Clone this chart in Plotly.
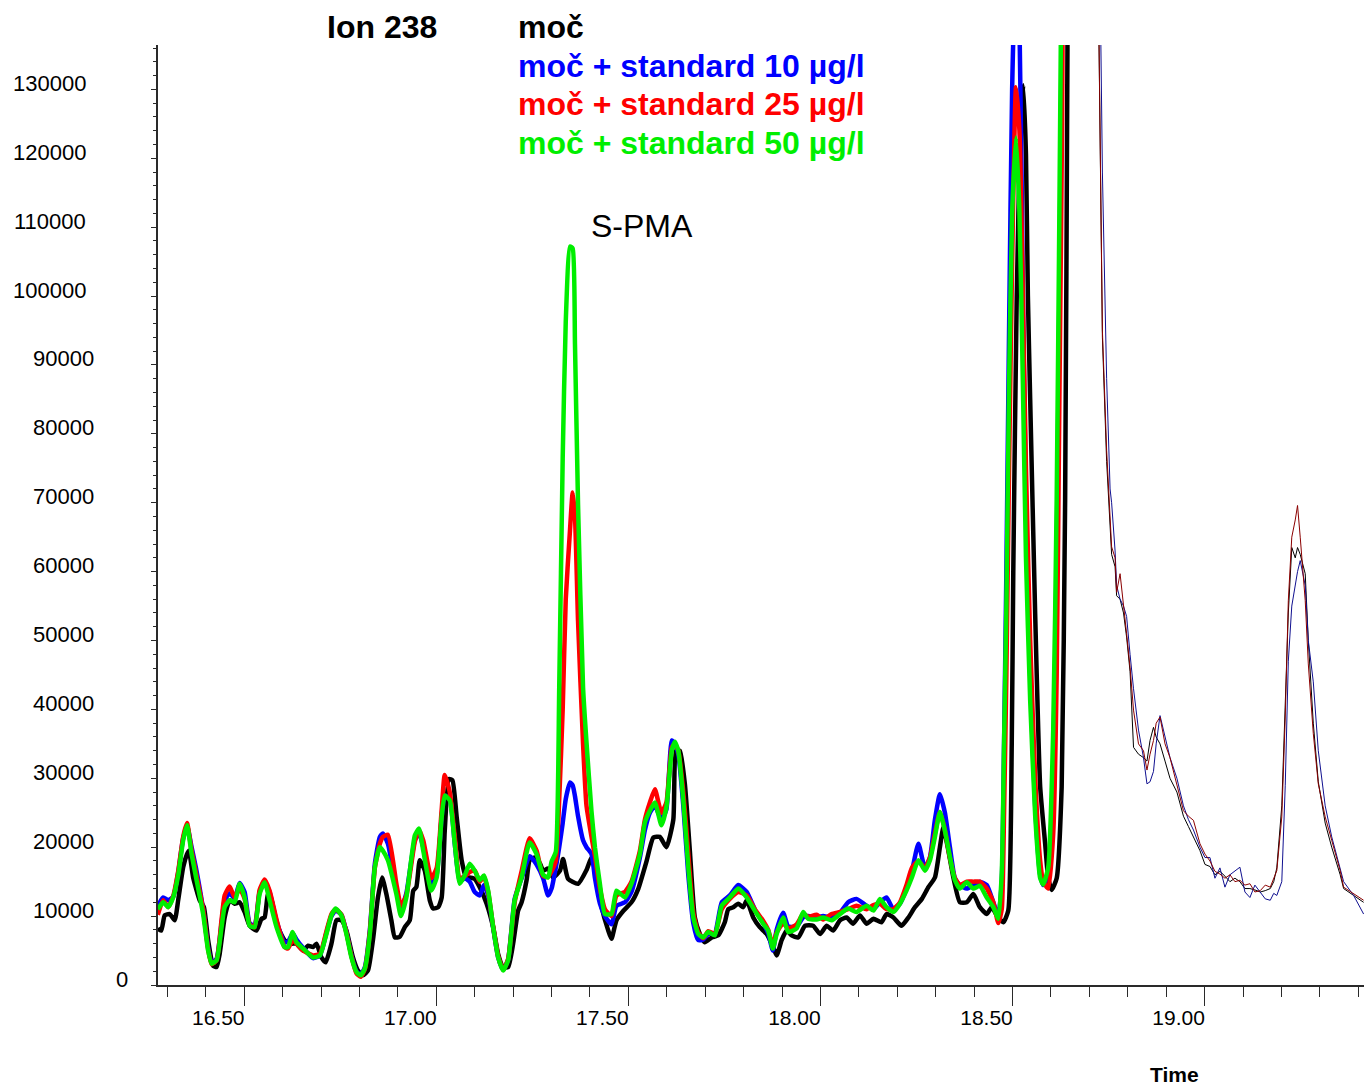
import plotly.graph_objects as go

# ---------------- data (time in min, intensity in counts) ----------------
t_std = [16.275, 16.289, 16.302, 16.315, 16.328, 16.341, 16.351, 16.363, 16.376, 16.393,
         16.406, 16.415, 16.428, 16.441, 16.449, 16.462, 16.475, 16.488, 16.501, 16.514,
         16.527, 16.540, 16.553, 16.566, 16.584, 16.605, 16.614, 16.626, 16.636, 16.653,
         16.679, 16.697, 16.714, 16.727, 16.738, 16.753, 16.766, 16.779, 16.792, 16.803,
         16.814, 16.827, 16.840, 16.853, 16.861, 16.874, 16.896, 16.908, 16.922, 16.944,
         16.955, 16.966, 16.987, 17.001, 17.014, 17.022, 17.035, 17.048, 17.061, 17.074,
         17.087, 17.100, 17.113, 17.124, 17.135, 17.148, 17.161, 17.174, 17.187, 17.204,
         17.222, 17.243, 17.261, 17.278, 17.291, 17.300, 17.311, 17.320, 17.329, 17.337,
         17.348, 17.355, 17.361, 17.369, 17.382, 17.391, 17.404, 17.413, 17.426, 17.439,
         17.456, 17.469, 17.491, 17.508, 17.530, 17.543, 17.556, 17.569, 17.586, 17.599,
         17.613, 17.621, 17.630, 17.643, 17.656, 17.669, 17.682, 17.695, 17.708, 17.725,
         17.743, 17.764, 17.786, 17.808, 17.829, 17.851, 17.864, 17.876, 17.886, 17.903,
         17.916, 17.938, 17.955, 17.968, 17.990, 18.007, 18.029, 18.051, 18.072, 18.094,
         18.120, 18.138, 18.155, 18.172, 18.190, 18.207, 18.224, 18.238, 18.255, 18.272,
         18.285, 18.298, 18.311, 18.324, 18.337, 18.350, 18.363, 18.381, 18.398, 18.415,
         18.433, 18.450, 18.463, 18.472, 18.478, 18.484, 18.491, 18.499, 18.509, 18.518,
         18.527, 18.535, 18.546, 18.559, 18.572, 18.580, 18.593, 18.606, 18.615, 18.622,
         18.629, 18.637]

std50 = [11000, 12000, 11300, 12700, 15900, 21000, 23200, 19000, 15200, 10300,
         5000, 3100, 3600, 8400, 11300, 12300, 12000, 14700, 12700, 8600,
         8400, 13200, 14900, 12300, 8400, 5500, 5500, 7700, 6200, 5300,
         4000, 4300, 7400, 10100, 11100, 10100, 7400, 4000, 1900, 1400,
         2400, 7400, 17100, 20000, 19500, 18100, 13200, 10000, 12700, 21700,
         22700, 19500, 13700, 15600, 24400, 27500, 26800, 20500, 14700, 15900,
         17600, 16600, 15200, 15900, 13700, 8400, 4000, 2100, 3600, 12300,
         15600, 20700, 19000, 16000, 15600, 17900, 19300, 43200, 76400, 96300,
         107200, 106900, 93000, 69700, 43200, 35200, 25200, 20000, 14600, 10300,
         10300, 13700, 12700, 14700, 19000, 23600, 25300, 26500, 23200, 25800,
         34000, 35300, 34000, 26800, 17100, 9800, 7400, 6900, 7700, 7200,
         11500, 12700, 14000, 12700, 10800, 8900, 7900, 5300, 7400, 9800,
         7700, 8200, 10600, 9600, 9500, 9800, 9400, 10300, 11100, 10600,
         11500, 10800, 12500, 11300, 10600, 11800, 13700, 15600, 18100, 16600,
         18100, 21500, 25100, 22400, 18600, 15200, 14000, 14900, 14000, 14400,
         12700, 11300, 9600, 16300, 35000, 55000, 87000, 112000, 123000, 112200,
         87200, 62100, 41300, 24600, 15500, 14600, 17100, 37100, 70500, 112200,
         160000, 250000]

std25 = [10200, 12300, 11300, 12900, 16500, 21500, 23500, 19500, 15800, 11000,
         5200, 3000, 3600, 9500, 13000, 14300, 12700, 14000, 12500, 8800,
         8400, 13800, 15300, 13700, 9500, 5500, 5300, 6500, 6000, 5000,
         4300, 4500, 7800, 10300, 11000, 10200, 7600, 4200, 1700, 1200,
         2300, 7700, 17000, 20500, 21500, 21800, 14700, 11500, 13000, 20800,
         22500, 21000, 15500, 17000, 25500, 30500, 28000, 21500, 15500, 15800,
         16400, 16600, 15000, 15800, 13500, 8500, 4200, 2200, 3800, 12000,
         16500, 21300, 19500, 15800, 15700, 16500, 18000, 27000, 40000, 56000,
         66000, 71500, 68000, 52800, 35000, 26000, 21500, 18700, 14000, 11000,
         10000, 13000, 13500, 15000, 19500, 24000, 26500, 28400, 25000, 26500,
         34500, 35000, 34000, 28000, 19000, 10500, 7600, 6800, 7800, 7400,
         11000, 12500, 13500, 13000, 11000, 9300, 8000, 5800, 7600, 9000,
         8200, 8800, 10300, 9900, 10200, 9500, 10300, 10600, 11000, 11500,
         11000, 11600, 11800, 11000, 11000, 12000, 14500, 17000, 18000, 17000,
         18500, 22000, 25100, 22500, 18500, 15500, 14500, 15000, 15000, 15000,
         14000, 12000, 9000, 11000, 25000, 45000, 75000, 105000, 130300, 124000,
         100000, 75000, 50000, 30000, 18000, 15000, 14000, 22000, 45000, 85000,
         125000, 200000]

std10 = [11500, 12700, 12300, 12800, 16300, 21300, 23100, 20000, 16500, 11000,
         5500, 3200, 3800, 9000, 12300, 13300, 12600, 14800, 13500, 9000,
         8600, 13500, 14900, 13500, 9300, 6200, 6300, 7500, 6600, 5400,
         3900, 4300, 7600, 10000, 10800, 10200, 7700, 4300, 2000, 1500,
         2600, 8000, 17600, 21500, 22000, 20500, 14000, 11000, 13300, 21000,
         22000, 20000, 14500, 16000, 24500, 27500, 27000, 20500, 15000, 15500,
         15000, 13500, 13000, 14500, 13000, 8300, 4000, 2200, 3700, 12500,
         15500, 18700, 17500, 15500, 13000, 14000, 17000, 20000, 23500, 27000,
         29400, 29000, 27400, 24500, 21000, 20000, 19000, 15500, 11800, 10000,
         8800, 11500, 12000, 13500, 18500, 22500, 25000, 26000, 24000, 25500,
         35500, 35000, 33500, 26000, 16000, 9000, 6500, 6600, 7400, 7500,
         12000, 13000, 14500, 13500, 11000, 9000, 7500, 5000, 8000, 10500,
         8500, 8500, 9800, 10000, 9800, 10000, 9800, 10500, 12000, 12500,
         11500, 11000, 12000, 12700, 11000, 11800, 14000, 16500, 20500, 17000,
         18500, 24000, 27700, 25000, 20000, 15500, 14500, 14000, 14500, 15000,
         14500, 12000, 10000, 15000, 35000, 60000, 95000, 130000, 150000, 140000,
         100000, 70000, 45000, 26000, 16000, 14500, 16000, 32000, 62000, 100000,
         145000, 200000]

t_urine = [16.275, 16.284, 16.293, 16.306, 16.319, 16.328, 16.341, 16.351, 16.356, 16.367,
           16.384, 16.395, 16.406, 16.419, 16.428, 16.436, 16.449, 16.462, 16.475, 16.488,
           16.501, 16.514, 16.532, 16.545, 16.553, 16.562, 16.571, 16.584, 16.605, 16.623,
           16.636, 16.653, 16.666, 16.679, 16.688, 16.701, 16.712, 16.727, 16.740, 16.753,
           16.766, 16.783, 16.796, 16.809, 16.822, 16.835, 16.848, 16.859, 16.870, 16.883,
           16.892, 16.905, 16.918, 16.931, 16.940, 16.948, 16.957, 16.970, 16.983, 16.992,
           17.005, 17.014, 17.022, 17.033, 17.042, 17.053, 17.066, 17.079, 17.087, 17.100,
           17.113, 17.131, 17.148, 17.161, 17.174, 17.187, 17.200, 17.213, 17.222, 17.235,
           17.243, 17.257, 17.270, 17.278, 17.291, 17.304, 17.322, 17.330, 17.343, 17.369,
           17.391, 17.404, 17.413, 17.430, 17.447, 17.456, 17.469, 17.486, 17.508, 17.526,
           17.547, 17.565, 17.582, 17.599, 17.617, 17.624, 17.634, 17.647, 17.660, 17.673,
           17.686, 17.699, 17.717, 17.734, 17.751, 17.760, 17.773, 17.786, 17.799, 17.808,
           17.825, 17.842, 17.860, 17.877, 17.886, 17.899, 17.912, 17.925, 17.942, 17.960,
           17.981, 17.999, 18.016, 18.033, 18.051, 18.068, 18.085, 18.103, 18.120, 18.138,
           18.159, 18.172, 18.190, 18.211, 18.229, 18.246, 18.264, 18.281, 18.298, 18.311,
           18.320, 18.333, 18.346, 18.363, 18.381, 18.398, 18.415, 18.433, 18.446, 18.459,
           18.476, 18.489, 18.498, 18.502, 18.511, 18.521, 18.528, 18.535, 18.540, 18.546,
           18.559, 18.572, 18.585, 18.593, 18.602, 18.615, 18.628, 18.637, 18.643, 18.647]

urine = [8200, 7900, 10100, 10300, 9400, 12300, 17100, 19000, 19500, 15600,
         12300, 11300, 6500, 2800, 2600, 4500, 9800, 12300, 11800, 12000,
         10600, 8600, 7900, 9600, 9800, 13200, 12300, 8900, 6500, 6000,
         6000, 5000, 5700, 5500, 6000, 4000, 3300, 6000, 9400, 9400,
         7900, 4000, 2100, 1400, 2100, 6500, 12700, 15600, 13200, 9400,
         6900, 7000, 8400, 9400, 13700, 14200, 18100, 16600, 12300, 11100,
         11300, 12700, 22400, 29900, 29700, 24400, 18100, 15400, 15600, 15400,
         14200, 11800, 8400, 4500, 2600, 2600, 6000, 10800, 12000, 15200,
         18100, 18500, 17600, 16600, 16900, 15600, 16600, 18300, 15400, 14700,
         16700, 18500, 17400, 11400, 8000, 6700, 9400, 10700, 12000, 14000,
         17900, 21400, 21500, 20000, 24000, 34000, 34000, 29200, 19500, 9800,
         7400, 6200, 6900, 7200, 9100, 11000, 11300, 11800, 11300, 12300,
         9800, 8400, 7400, 5500, 4300, 6500, 7900, 7200, 6900, 8600,
         8600, 7400, 8600, 7900, 9400, 9800, 8900, 10100, 8900, 9600,
         9100, 10300, 9800, 8600, 9800, 11300, 12500, 14200, 15600, 20000,
         22900, 19500, 15600, 12000, 12000, 13200, 11300, 10300, 11300, 10100,
         9100, 10800, 35000, 60000, 100000, 124700, 130600, 120500, 100000, 85000,
         53800, 28800, 20500, 15500, 13800, 15500, 28800, 70500, 136000, 200000]

# tail of the chromatogram (thin traces)
t_tail = [18.712, 18.728, 18.734, 18.745, 18.754, 18.758, 18.767, 18.771, 18.780, 18.789,
          18.797, 18.806, 18.815, 18.828, 18.841, 18.850, 18.858, 18.867, 18.874, 18.884,
          18.897, 18.910, 18.928, 18.945, 18.958, 18.971, 18.988, 19.001, 19.014, 19.027,
          19.040, 19.053, 19.066, 19.079, 19.092, 19.105, 19.118, 19.131, 19.145, 19.158,
          19.171, 19.180, 19.188, 19.201, 19.210, 19.218, 19.227, 19.236, 19.242, 19.249,
          19.262, 19.270, 19.283, 19.296, 19.314, 19.331, 19.353, 19.362, 19.388, 19.414]

tail_25 = [200000, 118000, 95000, 77600, 68000, 63600, 62000, 57000, 59700, 55400,
           51000, 46100, 39900, 35000, 34000, 31200, 33500, 35500, 38000, 38900,
           35000, 33000, 29200, 25300, 24500, 23900, 20500, 19000, 18000, 16500,
           16100, 15500, 16000, 15000, 15200, 14500, 14700, 13500, 13700, 14500,
           14200, 15500, 16600, 24400, 38900, 55800, 65000, 67500, 69600, 65000,
           55800, 46600, 36500, 29200, 24400, 21000, 16600, 14200, 13200, 12300]

tail_urine = [200000, 116000, 94000, 76000, 67000, 62500, 60700, 56500, 56000, 54000,
              50500, 45500, 34500, 33500, 33000, 32500, 35500, 37400, 36000, 35000,
              32500, 30000, 28000, 24500, 23000, 21500, 19500, 17500, 17200, 16000,
              16500, 15800, 15000, 15500, 15000, 14000, 14000, 13800, 13500, 13700,
              14000, 15000, 17000, 26000, 40000, 54000, 63500, 62000, 63500, 62500,
              59700, 50000, 38000, 29500, 23500, 20000, 16000, 14000, 13000, 12000]

tail_10 = [220000, 150000, 118000, 88000, 72000, 70000, 63000, 58000, 56000, 55000,
           53500, 48000, 43000, 37000, 33000, 29200, 29500, 31000, 35000, 39100,
           36000, 33000, 30000, 26000, 24000, 22500, 20000, 18500, 18500, 15500,
           17000, 14200, 16000, 16500, 17100, 13500, 12700, 14500, 13500, 12500,
           12300, 13300, 13000, 15000, 29000, 47000, 55000, 58000, 60000, 61600,
           58000, 50000, 44000, 34000, 26000, 21500, 17000, 15000, 13000, 10300]

y_tick_vals = [0, 10000, 20000, 30000, 40000, 50000, 60000, 70000,
               80000, 90000, 100000, 110000, 120000, 130000]
y_tick_text = ["0", "10000", "20000", "30000", "40000", "50000", "60000", "70000",
               "80000", "90000", "100000", "110000", "120000", "130000"]
x_ticks_major = 0.5
y_range_max = 136440

FONT = "Arial, 'Liberation Sans', sans-serif"

fig = go.Figure()

thick = [
    (t_urine, urine, "#000000", "moč"),
    (t_std, std10, "#0000FF", "moč + standard 10 µg/l"),
    (t_std, std25, "#FF0000", "moč + standard 25 µg/l"),
    (t_std, std50, "#00EE00", "moč + standard 50 µg/l"),
]
for tx, vy, col, nm in thick:
    fig.add_trace(go.Scatter(x=tx, y=vy, mode="lines", name=nm,
                             line=dict(color=col, width=4.5, shape="spline", smoothing=0.5),
                             hoverinfo="skip"))

thin = [
    (tail_urine, "#000000"),
    (tail_10, "#101090"),
    (tail_25, "#8B0000"),
]
for vy, col in thin:
    fig.add_trace(go.Scatter(x=t_tail, y=vy, mode="lines", showlegend=False,
                             line=dict(color=col, width=1), hoverinfo="skip"))

axis_col = "#2a2a2a"
fig.update_layout(
    width=1364, height=1086,
    margin=dict(l=158, r=0, t=45, b=101),
    plot_bgcolor="white", paper_bgcolor="white",
    showlegend=False,
    font=dict(family=FONT, color="black"),
    xaxis=dict(
        range=[16.2755, 19.415], showgrid=False, zeroline=False,
        showline=True, linecolor=axis_col, linewidth=1.5,
        ticks="outside", ticklen=19, tickwidth=1.3, tickcolor=axis_col,
        tick0=16.0, dtick=x_ticks_major, tickformat=".2f",
        tickfont=dict(size=21, family=FONT, color="black"),
        ticklabelshift=-26, ticklabelstandoff=-6,
        minor=dict(dtick=0.1, tick0=16.0, ticks="outside", ticklen=10,
                   tickwidth=1.3, tickcolor=axis_col),
    ),
    yaxis=dict(
        range=[0, y_range_max], showgrid=False, zeroline=False,
        showline=True, linecolor=axis_col, linewidth=1.5,
        ticks="outside", ticklen=5, tickwidth=1.2, tickcolor=axis_col,
        tickmode="array", tickvals=y_tick_vals, showticklabels=False,
        minor=dict(dtick=2000, tick0=0, ticks="outside", ticklen=3,
                   tickwidth=1, tickcolor=axis_col),
    ),
)

# y tick labels (placed like the original software: indented by digit count)
plot_left_px, plot_w_px = 158, 1206
right_edge_px = {6: 88, 5: 96, 1: 130}
for val, txt in zip(y_tick_vals, y_tick_text):
    xr = (right_edge_px[len(txt)] - plot_left_px) / plot_w_px
    fig.add_annotation(text=txt, xref="paper", yref="y", x=xr, y=val,
                       xanchor="right", yanchor="middle", yshift=6, showarrow=False,
                       font=dict(family=FONT, size=22, color="black"))

def ann(text, x, y, size, color="black", bold=True):
    fig.add_annotation(text=(f"<b>{text}</b>" if bold else text), xref="paper", yref="paper",
                       x=x, y=y, xanchor="left", yanchor="middle", showarrow=False,
                       font=dict(family=FONT, size=size, color=color))

ann("Ion 238", 0.1385, 1.0191, 32)
ann("moč", 0.2968, 1.0191, 32)
ann("moč + standard 10 µg/l", 0.2968, 0.9777, 32, "#0000FF")
ann("moč + standard 25 µg/l", 0.2968, 0.9372, 32, "#FF0000")
ann("moč + standard 50 µg/l", 0.2968, 0.8957, 32, "#00EE00")
ann("S-PMA", 0.3574, 0.8074, 32, bold=False)
ann("Time", 0.8209, -0.0957, 21)

fig.write_html("out.html", config={"displayModeBar": False},
               post_script="document.body.style.margin='0';")
